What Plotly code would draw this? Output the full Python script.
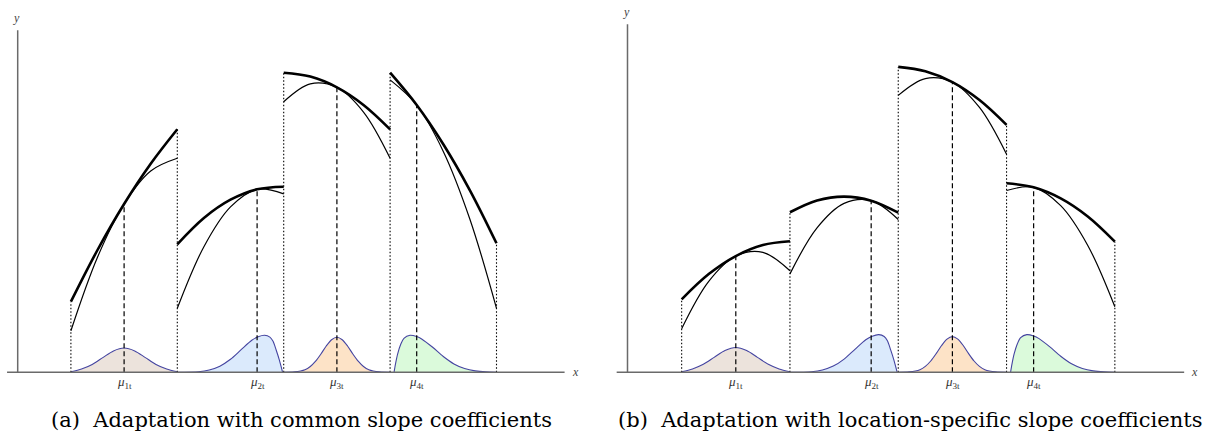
import plotly.graph_objects as go

# ---------------- data ----------------
boundaries = [0.5, 1.5, 2.5, 3.5, 4.5]
mu = [1.0, 2.25, 3.0, 3.75]
mu_names = ["1t", "2t", "3t", "4t"]

seg_x = [
    [0.5, 0.75, 1.0, 1.25, 1.5],
    [1.5, 1.75, 2.0, 2.25, 2.5],
    [2.5, 2.75, 3.0, 3.25, 3.5],
    [3.5, 3.75, 4.0, 4.25, 4.5],
]

# panel (a): common slope coefficients
a_thick = [
    [0.706, 1.223, 1.683, 2.085, 2.430],
    [1.280, 1.543, 1.726, 1.830, 1.856],
    [2.996, 2.957, 2.850, 2.674, 2.430],
    [2.996, 2.673, 2.281, 1.820, 1.290],
]
a_thin = [
    [0.416, 1.151, 1.683, 2.013, 2.140],
    [0.640, 1.256, 1.654, 1.830, 1.784],
    [2.706, 2.885, 2.850, 2.602, 2.140],
    [2.924, 2.673, 2.209, 1.531, 0.640],
]
a_tangent = [1.683, 1.830, 2.850, 2.673]

# panel (b): location-specific slope coefficients
b_thick = [
    [0.717, 0.965, 1.142, 1.250, 1.287],
    [1.572, 1.688, 1.726, 1.686, 1.568],
    [3.000, 2.957, 2.850, 2.674, 2.430],
    [1.857, 1.817, 1.708, 1.530, 1.283],
]
b_thin = [
    [0.428, 0.893, 1.142, 1.178, 0.998],
    [0.967, 1.419, 1.659, 1.686, 1.501],
    [2.720, 2.885, 2.850, 2.602, 2.142],
    [1.786, 1.817, 1.637, 1.246, 0.644],
]
b_tangent = [1.142, 1.686, 2.850, 1.817]

# location densities
g1_x = [0.5, 0.6, 0.7, 0.8, 0.9, 1.0, 1.1, 1.2, 1.3, 1.4, 1.5]
g1_y = [0.005, 0.033, 0.079, 0.147, 0.214, 0.243, 0.214, 0.147, 0.079, 0.033, 0.005]
g2_x = [1.5, 1.7, 1.8, 1.9, 2.0, 2.1, 2.2, 2.26, 2.32, 2.37, 2.40, 2.43, 2.46, 2.49]
g2_y = [0.0, 0.006, 0.023, 0.061, 0.130, 0.226, 0.320, 0.355, 0.370, 0.352, 0.310, 0.220, 0.120, 0.0]
g3_x = [2.5, 2.6, 2.7, 2.75, 2.8, 2.85, 2.9, 2.95, 3.0, 3.05, 3.1, 3.15, 3.2, 3.25, 3.3, 3.4, 3.5]
g3_y = [0.0, 0.004, 0.026, 0.058, 0.111, 0.183, 0.263, 0.326, 0.350, 0.326, 0.263, 0.183, 0.111, 0.058, 0.026, 0.004, 0.0]
g4_x = [3.537, 3.55, 3.57, 3.6, 3.63, 3.687, 3.75, 3.8, 3.9, 4.0, 4.1, 4.2, 4.3, 4.4, 4.5]
g4_y = [0.0, 0.080, 0.180, 0.280, 0.340, 0.370, 0.357, 0.331, 0.250, 0.158, 0.084, 0.038, 0.014, 0.004, 0.001]
dens_x = [g1_x, g2_x, g3_x, g4_x]
dens_y = [g1_y, g2_y, g3_y, g4_y]
dens_fill = ["#ece3dc", "#dbeafc", "#fde3c7", "#dbfadb"]

captions = ["(a)\u00a0\u00a0Adaptation with common slope coefficients",
            "(b)\u00a0\u00a0Adaptation with location-specific slope coefficients"]

# axis extents (data units)
x_axis_span = [-0.10, 5.14]
y_axis_top = 3.42

# ---------------- figure ----------------
W, H = 1205, 440
fig = go.Figure()

# pixel mapping of each panel: (origin px, x unit px, y unit px)
panels = [
    dict(xa="x", ya="y", ox=17.7, ux=106.4, uy=100.0, thick=a_thick, thin=a_thin,
         tan=a_tangent, dom=[0.0, 0.5], cap_x=0.2498),
    dict(xa="x2", ya="y2", ox=627.5, ux=108.3, uy=101.8, thick=b_thick, thin=b_thin,
         tan=b_tangent, dom=[0.5, 1.0], cap_x=0.7552),
]
base_py = 372.3
BLACK = "#000000"
OUTLINE = "#4444a0"
CAP_FONT = "DejaVu Serif"

annotations = []
layout_axes = {}
for i, p in enumerate(panels):
    xa, ya = p["xa"], p["ya"]
    # densities
    for gx, gy, col in zip(dens_x, dens_y, dens_fill):
        fig.add_trace(go.Scatter(x=gx, y=gy, mode="lines", fill="tozeroy",
                                 fillcolor=col, line=dict(color=OUTLINE, width=1.1, shape="spline", smoothing=0.8),
                                 xaxis=xa, yaxis=ya, hoverinfo="skip", showlegend=False))
    # dashed lines at the location means
    dx, dy = [], []
    for m, t in zip(mu, p["tan"]):
        dx += [m, m, None]
        dy += [0, t, None]
    fig.add_trace(go.Scatter(x=dx, y=dy, mode="lines",
                             line=dict(color=BLACK, width=1.2, dash="5px,3px"),
                             xaxis=xa, yaxis=ya, hoverinfo="skip", showlegend=False))
    # dotted lines at the region boundaries
    th, tn = p["thick"], p["thin"]
    ox_, oy_ = [], []
    for j, bnd in enumerate(boundaries):
        ends = []
        if j > 0:
            ends += [th[j - 1][-1], tn[j - 1][-1]]
        if j < len(th):
            ends += [th[j][0], tn[j][0]]
        ox_ += [bnd, bnd, None]
        oy_ += [0, max(ends), None]
    fig.add_trace(go.Scatter(x=ox_, y=oy_, mode="lines",
                             line=dict(color=BLACK, width=1.1, dash="1.5px,2px"),
                             xaxis=xa, yaxis=ya, hoverinfo="skip", showlegend=False))
    # thin and thick curves
    for sx, sy in zip(seg_x, tn):
        fig.add_trace(go.Scatter(x=sx, y=sy, mode="lines",
                                 line=dict(color=BLACK, width=1.2, shape="spline"),
                                 xaxis=xa, yaxis=ya, hoverinfo="skip", showlegend=False))
    for sx, sy in zip(seg_x, th):
        fig.add_trace(go.Scatter(x=sx, y=sy, mode="lines",
                                 line=dict(color=BLACK, width=2.6, shape="spline"),
                                 xaxis=xa, yaxis=ya, hoverinfo="skip", showlegend=False))
    # axis lines
    fig.add_trace(go.Scatter(x=x_axis_span, y=[0, 0], mode="lines",
                             line=dict(color="#6a6a6a", width=1.5),
                             xaxis=xa, yaxis=ya, hoverinfo="skip", showlegend=False))
    fig.add_trace(go.Scatter(x=[0, 0], y=[0, y_axis_top], mode="lines",
                             line=dict(color="#6a6a6a", width=1.5),
                             xaxis=xa, yaxis=ya, hoverinfo="skip", showlegend=False))

    # axes ranges from pixel mapping
    x0_px = p["dom"][0] * W
    x1_px = p["dom"][1] * W
    xr = [(x0_px - p["ox"]) / p["ux"], (x1_px - p["ox"]) / p["ux"]]
    yr = [(base_py - H) / p["uy"], base_py / p["uy"]]
    kx = "xaxis" if i == 0 else "xaxis2"
    ky = "yaxis" if i == 0 else "yaxis2"
    layout_axes[kx] = dict(domain=p["dom"], range=xr, visible=False, fixedrange=True)
    layout_axes[ky] = dict(domain=[0, 1], range=yr, visible=False, fixedrange=True,
                           anchor=xa)
    if i == 1:
        layout_axes[kx]["anchor"] = "y2"

    # labels
    ref = dict(xref=xa, yref=ya, showarrow=False)
    for m, nm in zip(mu, mu_names):
        annotations.append(dict(x=m, y=-10.0 / p["uy"], text="<i>μ</i><sub>%s</sub>" % nm,
                                font=dict(family="Liberation Serif", size=13, color="#333333"),
                                xanchor="center", yanchor="middle", **ref))
    annotations.append(dict(x=-0.01, y=3.54, text="<i>y</i>",
                            font=dict(family="Liberation Serif", size=12, color="#444444"),
                            xanchor="center", yanchor="middle", **ref))
    annotations.append(dict(x=x_axis_span[1] + 0.1, y=0.0, text="<i>x</i>",
                            font=dict(family="Liberation Serif", size=12, color="#444444"),
                            xanchor="center", yanchor="middle", **ref))
    annotations.append(dict(x=p["cap_x"], y=(H - 420) / H, xref="paper", yref="paper",
                            showarrow=False, text=captions[i],
                            font=dict(family=CAP_FONT, size=21, color="#000000"),
                            xanchor="center", yanchor="middle"))

fig.update_layout(width=W, height=H, margin=dict(l=0, r=0, t=0, b=0),
                  paper_bgcolor="white", plot_bgcolor="white",
                  annotations=annotations, showlegend=False, **layout_axes)

fig.write_html("out.html", config={"displayModeBar": False, "staticPlot": True},
               post_script="document.body.style.margin='0';document.body.style.overflow='hidden';")
